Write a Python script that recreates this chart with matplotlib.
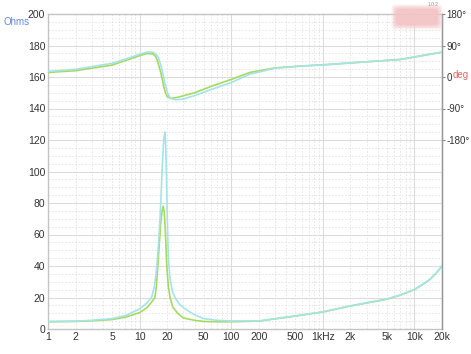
import numpy as np
import matplotlib
matplotlib.use("Agg")
import matplotlib.pyplot as plt
from matplotlib.ticker import FixedLocator, NullFormatter
from matplotlib.patches import FancyBboxPatch

plt.rcParams["font.family"] = ["Liberation Sans", "DejaVu Sans"]

# impedance magnitude (ohms)
zFreqCyan = [1, 2, 3, 5, 7, 10, 12, 13.5, 14.5, 15.3, 16, 16.7, 17.3, 17.9, 18.4, 18.9,
             19.3, 19.7, 20.1, 20.6, 21.5, 22.8, 24.3, 27, 30, 35, 40, 50, 70, 100,
             200, 500, 1000, 2000, 5000, 7000, 10000, 12500, 15000, 17500, 20000]
zCyan = [4.8, 5.0, 5.5, 6.6, 8.5, 12.8, 16.5, 20, 27, 38, 52, 70, 90, 110, 121, 125,
         116, 95, 68, 45, 32, 24, 20, 16, 13.6, 11, 9, 6.6, 5.5, 5.1,
         5.1, 8.3, 10.9, 14.7, 19, 21.5, 25, 28.5, 31.8, 35.8, 40]

zFreqGreen = [1, 2, 3, 5, 7, 10, 12, 13.5, 14.7, 15.3, 15.8, 16.4, 17, 17.6, 18.1,
              18.6, 19.1, 19.8, 20.6, 21.5, 23, 26, 30, 40, 50, 70, 100,
              200, 500, 1000, 2000, 5000, 7000, 10000, 12500, 15000, 17500, 20000]
zGreen = [4.6, 4.8, 5.2, 6.0, 7.5, 10.4, 13.5, 17, 20, 28, 40, 54, 67, 75, 78,
          74, 62, 40, 27, 20, 14, 10, 7, 5.5, 4.8, 4.6, 4.6,
          5.0, 8.2, 10.8, 14.6, 18.9, 21.5, 25, 28.5, 31.8, 35.8, 40]

# phase (degrees)
pFreqCyan = [1, 2, 5, 8, 10, 12, 14, 15, 16, 16.8, 17.5, 18.3, 19, 19.8, 20.5, 22,
             25, 30, 40, 60, 100, 160, 300, 564, 1200, 2500, 7000, 20000]
pCyan = [16, 22, 39, 56, 65, 71, 71, 66, 56, 40, 22, 0, -21, -38, -50, -62,
         -65, -63, -53, -36, -16, 8, 25, 31, 36, 42, 50, 71]

pFreqGreen = [1, 2, 5, 8, 10, 12, 14, 14.8, 15.5, 16.2, 17, 17.8, 18.5, 19.2, 20, 22,
              26, 40, 60, 100, 160, 300, 564, 1200, 2500, 7000, 20000]
pGreen = [13, 18, 34, 52, 61, 67, 66, 60, 50, 33, 13, -10, -31, -46, -56, -61,
          -58, -45, -27, -7, 13, 26, 31, 36, 42, 50, 71]

xTicks = [1, 2, 5, 10, 20, 50, 100, 200, 500, 1000, 2000, 5000, 10000, 20000]
xLabels = ["1", "2", "5", "10", "20", "50", "100", "200", "500", "1kHz", "2k", "5k", "10k", "20k"]
phTicks = [180, 90, 0, -90, -180]
phLabels = ["180°", "90°", "0", "-90°", "-180°"]

cyan = "#a4e4e8"
green = "#a6d95e"
tickCol = "#333333"
fs = 7.5

fig = plt.figure(figsize=(4.71, 3.54), dpi=100)
ax = fig.add_axes([48/471, 1 - 329/354, 394/471, 315/354])
ax.set_xscale("log")
ax.set_xlim(1, 20000)
ax.set_ylim(0, 200)

# grid
minorX = [m * 10**d for d in range(0, 5) for m in range(2, 10) if m * 10**d < 20000]
ax.xaxis.set_minor_locator(FixedLocator(minorX))
ax.xaxis.set_major_locator(FixedLocator(xTicks))
ax.set_xticklabels(xLabels)
ax.xaxis.set_minor_formatter(NullFormatter())
ax.set_yticks(np.arange(0, 201, 20))
ax.yaxis.set_minor_locator(FixedLocator(np.arange(0, 201, 5)))
for d in [10, 100, 1000, 10000]:
    ax.axvline(d, color="#dcdcdc", lw=0.8, zorder=0)
for v in np.arange(20, 200, 20):
    ax.axhline(v, color="#dcdcdc", lw=0.8, zorder=0)
ax.grid(which="minor", axis="both", color="#e2e2e2", lw=0.6, ls=(0, (2, 2)), zorder=0)
for f in [2, 5, 20, 50, 200, 500, 2000, 5000]:
    ax.axvline(f, color="#e2e2e2", lw=0.6, ls=(0, (2, 2)), zorder=0)

for s in ["left", "bottom", "top", "right"]:
    ax.spines[s].set_color("#c4c4c4")
    ax.spines[s].set_linewidth(1.0)
ax.tick_params(which="both", length=0, labelsize=fs, colors=tickCol, pad=2)

ax.plot(zFreqGreen, zGreen, color=green, lw=1.2, zorder=3)
ax.plot(zFreqCyan, zCyan, color=cyan, lw=1.2, zorder=4)

# phase axis
ax2 = ax.twinx()
ax2.set_ylim(-720, 180)
ax2.set_yticks(phTicks)
ax2.set_yticklabels(phLabels)
ax2.tick_params(length=2, width=0.8, color="#888888", labelsize=7, labelcolor=tickCol, pad=1)
for s in ["left", "bottom", "top"]:
    ax2.spines[s].set_visible(False)
ax2.spines["right"].set_color("#999999")
ax2.spines["right"].set_linewidth(1.0)
ax2.plot(pFreqGreen, pGreen, color=green, lw=1.2, zorder=3)
ax2.plot(pFreqCyan, pCyan, color=cyan, lw=1.2, zorder=4)

fig.text(4/471, 1 - 22/354, "Ohms", color="#6688dd", fontsize=7, va="center", ha="left")
fig.text(453/471, 1 - 75.5/354, "deg", color="#e06666", fontsize=7, va="center", ha="left")
fig.text(433/471, 1 - 5/354, "1.0.2", color="#888888", fontsize=3.5, va="center", ha="center")

# blurred badge top right
for i, a in enumerate([0.25, 0.35, 0.5, 0.8]):
    pad = (3 - i) * 1.5
    fig.patches.append(FancyBboxPatch(((396 - pad)/471, 1 - (25 + pad)/354),
                                      (42 + 2*pad)/471, (16 + 2*pad)/354,
                                      boxstyle="round,pad=0,rounding_size=0.01",
                                      transform=fig.transFigure, facecolor="#f3c4c6",
                                      edgecolor="none", alpha=a, zorder=5))

fig.savefig("out.png", dpi=100, facecolor="white")
